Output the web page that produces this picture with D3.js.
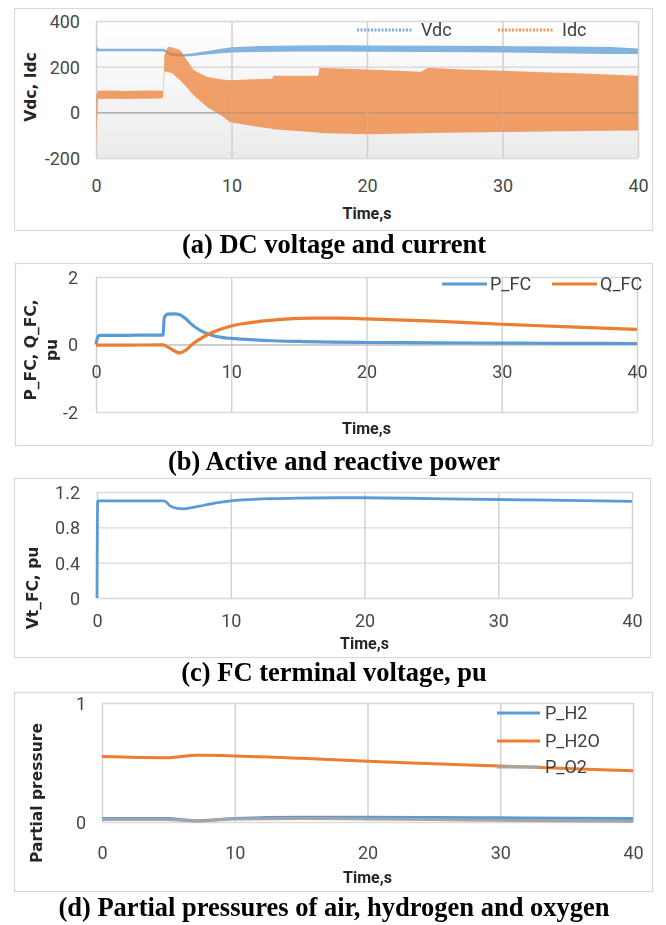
<!DOCTYPE html>
<html><head><meta charset="utf-8">
<script src="https://cdn.jsdelivr.net/npm/d3@7"></script>
<style>
html,body{margin:0;padding:0;background:#fff;}
svg{display:block;}
.tick text{font-family:"Roboto","Liberation Sans",sans-serif;font-size:18px;fill:#484848;}
.lg{font-family:"Roboto","Liberation Sans",sans-serif;font-size:18px;fill:#404040;}
.xt{font-family:"Roboto","Liberation Sans",sans-serif;font-weight:bold;font-size:16px;fill:#262626;}
.yt{font-family:"DejaVu Sans","Verdana",sans-serif;font-weight:bold;font-size:15.5px;fill:#262626;}
.cap{font-family:"Liberation Serif","Times New Roman",serif;font-weight:bold;font-size:26.5px;fill:#000;}
</style></head>
<body>
<svg id="c" width="666" height="925"></svg>
<script>
// ---------- data ----------
const xTicks = [0, 10, 20, 30, 40];

// (a) DC voltage / current (envelopes of the oscillating traces)
const vdcTime = [0, 0.2, 2, 4, 5, 5.5, 6, 6.5, 7, 8, 9, 10, 12, 15, 18, 20, 25, 30, 35, 38, 40];
const vdcHigh = [290, 279, 278, 279, 278, 262, 258, 256, 258, 266, 276, 285, 290, 293, 294, 293, 292, 290, 288, 286, 280];
const vdcLow  = [268, 268, 267, 268, 266, 248, 244, 244, 246, 252, 258, 262, 264, 266, 266, 265, 264, 262, 258, 256, 255];
const idcTime = [0, 0.15, 1, 2, 3, 4, 4.95, 5.05, 5.3, 5.6, 6.2, 6.7, 7.2, 8.2, 9.2, 9.9, 11.6, 13, 13.1, 16.4, 16.5, 20, 24, 24.5, 27, 30, 33, 36, 40];
const idcHigh = [75, 95, 96, 93, 95, 96, 95, 250, 286, 285, 273, 230, 185, 155, 145, 141, 145, 147, 160, 160, 195, 188, 178, 195, 188, 182, 176, 170, 160];
const idcLow  = [-135, 58, 60, 58, 60, 60, 62, 180, 177, 172, 141, 110, 75, 23, -12, -43, -60, -72, -74, -88, -90, -96, -92, -90, -88, -86, -84, -82, -80];

// (b) active / reactive power
const pTime = [0, 0.15, 0.3, 2, 4, 4.95, 5.05, 5.3, 5.8, 6.2, 6.6, 7.0, 7.7, 8.5, 9.3, 10, 12, 15, 20, 25, 30, 35, 40];
const pFC   = [0, 0.24, 0.27, 0.27, 0.28, 0.28, 0.8, 0.9, 0.91, 0.88, 0.78, 0.62, 0.42, 0.28, 0.21, 0.18, 0.13, 0.09, 0.06, 0.05, 0.04, 0.035, 0.03];
const qTime = [0, 2, 4.95, 5.5, 6.2, 6.6, 7.1, 8.1, 9, 10, 12, 14, 16, 18, 20, 25, 30, 35, 40];
const qFC   = [-0.02, -0.02, -0.01, -0.12, -0.25, -0.18, 0, 0.26, 0.42, 0.55, 0.68, 0.75, 0.78, 0.78, 0.76, 0.69, 0.6, 0.52, 0.45];

// (c) FC terminal voltage
const vtTime = [0, 0.05, 1, 2, 3, 4, 5, 5.5, 6, 6.5, 7, 8, 9, 10, 12, 15, 18, 20, 25, 30, 35, 40];
const vtFC   = [0, 1.1, 1.1, 1.1, 1.1, 1.1, 1.1, 1.04, 1.015, 1.01, 1.02, 1.05, 1.08, 1.1, 1.12, 1.13, 1.135, 1.135, 1.125, 1.115, 1.105, 1.095];

// (d) partial pressures
const ppTime = [0, 5, 6, 7, 8, 10, 15, 20, 25, 30, 35, 40];
const pH2    = [0.03, 0.03, 0.02, 0.01, 0.015, 0.03, 0.04, 0.04, 0.038, 0.035, 0.032, 0.03];
const pH2O   = [0.55, 0.54, 0.55, 0.56, 0.56, 0.555, 0.535, 0.51, 0.49, 0.47, 0.45, 0.43];
const pO2    = [0.02, 0.02, 0.015, 0.008, 0.012, 0.025, 0.03, 0.025, 0.02, 0.015, 0.01, 0.006];

const BLUE = "#5b9bd5", ORANGE = "#ed7d31", GRAY = "#a5a5a5";
const fmtTick = d => String(d);   // plain hyphen minus, as in the reference

// ---------- drawing ----------
const svg = d3.select("#c");
const defs = svg.append("defs");
const gr = defs.append("linearGradient").attr("id", "bgA").attr("x1", 0).attr("y1", 0).attr("x2", 0).attr("y2", 1);
gr.append("stop").attr("offset", "0%").attr("stop-color", "#ffffff");
gr.append("stop").attr("offset", "100%").attr("stop-color", "#ebebeb");

function frame(x0, y0, x1, y1) {
  svg.append("rect").attr("x", x0 + 0.5).attr("y", y0 + 0.5).attr("width", x1 - x0).attr("height", y1 - y0)
    .attr("fill", "#fff").attr("stroke", "#d9d9d9").attr("stroke-width", 1.2);
}

function grid(g, o, x, y, opacity) {
  const gx = g.append("g").attr("transform", `translate(0,${o.yB})`).attr("opacity", opacity)
    .call(d3.axisBottom(x).tickValues(xTicks).tickSize(-(o.yB - o.yT)).tickFormat(""));
  gx.select(".domain").remove();
  gx.selectAll("line").attr("stroke", "#d0d0d0").attr("stroke-width", 1.4);
  const gy = g.append("g").attr("transform", `translate(${o.x0},0)`).attr("opacity", opacity)
    .call(d3.axisLeft(y).tickValues(o.yTicks).tickSize(-(o.x1 - o.x0)).tickFormat(""));
  gy.select(".domain").remove();
  gy.selectAll("line").attr("stroke", d => (d === 0 && o.zeroDark) ? o.zeroDark : "#d9d9d9").attr("stroke-width", 1.4);
}

function panel(o) {
  const x = d3.scaleLinear().domain([0, 40]).range([o.x0, o.x1]);
  const y = d3.scaleLinear().domain(o.yDom).range([o.yB, o.yT]);
  const g = svg.append("g");
  if (o.bg) g.append("rect").attr("x", o.x0).attr("y", o.yT).attr("width", o.x1 - o.x0).attr("height", o.yB - o.yT).attr("fill", o.bg);
  grid(g, o, x, y, 1);
  // y tick labels
  const yl = g.append("g").attr("transform", `translate(${o.yLabX},0)`)
    .call(d3.axisLeft(y).tickValues(o.yTicks).tickSize(0).tickPadding(0).tickFormat(fmtTick));
  yl.select(".domain").remove();
  yl.selectAll("text").attr("dy", "0.36em");
  // x tick labels
  const xl = g.append("g").attr("transform", `translate(0,${o.xLabY})`)
    .call(d3.axisBottom(x).tickValues(xTicks).tickSize(0).tickPadding(0).tickFormat(fmtTick));
  xl.select(".domain").remove();
  xl.selectAll("text").attr("dy", "0.36em");
  // axis titles
  svg.append("text").attr("class", "xt").attr("x", (o.x0 + o.x1) / 2).attr("y", o.xTitleY)
    .attr("text-anchor", "middle").attr("dy", "0.36em").text("Time,s");
  o.yTitle.forEach((t, i) => {
    svg.append("text").attr("class", "yt").attr("text-anchor", "middle")
      .attr("transform", `translate(${o.yTitleX[i]},${o.yTitleY}) rotate(-90)`).attr("dy", "0.36em").text(t);
  });
  return {x, y, g, o};
}

// ===== (a) =====
frame(14, 8, 652, 230);
{
  const P = panel({x0: 96, x1: 638, yT: 21, yB: 158, yDom: [-200, 400], yTicks: [-200, 0, 200, 400],
    zeroDark: "#a6a6a6", bg: "url(#bgA)", yLabX: 80, xLabY: 186, xTitleY: 213,
    yTitle: ["Vdc, Idc"], yTitleX: [30], yTitleY: 87});
  const {x, y, g} = P;
  const area = (hi, lo) => d3.area().x(d => x(d)).y0((d, i) => y(lo[i])).y1((d, i) => y(hi[i]));
  g.append("path").datum(vdcTime).attr("d", area(vdcHigh, vdcLow)).attr("fill", BLUE).attr("fill-opacity", 0.75);
  g.append("path").datum(idcTime).attr("d", area(idcHigh, idcLow)).attr("fill", ORANGE).attr("fill-opacity", 0.72);
  // gridlines faintly visible through the dense traces
  grid(g, P.o, x, y, 0.35);
  // legend
  [["Vdc", BLUE, 357, 421], ["Idc", ORANGE, 498, 562]].forEach(([t, c, lx, tx]) => {
    svg.append("line").attr("x1", lx).attr("x2", lx + 55).attr("y1", 30).attr("y2", 30)
      .attr("stroke", c).attr("stroke-width", 3).attr("stroke-dasharray", "2,1.5").attr("opacity", 0.8);
    svg.append("text").attr("class", "lg").attr("x", tx).attr("y", 30).attr("dy", "0.36em").text(t);
  });
}
svg.append("text").attr("class", "cap").attr("x", 334).attr("y", 253).attr("text-anchor", "middle").text("(a) DC voltage and current");

// ===== (b) =====
frame(15, 263, 652, 445);
{
  const {x, y, g} = panel({x0: 96, x1: 637, yT: 277, yB: 412, yDom: [-2, 2], yTicks: [-2, 0, 2],
    zeroDark: "#bfbfbf", yLabX: 78, xLabY: 372, xTitleY: 428,
    yTitle: ["P_FC, Q_FC,", "pu"], yTitleX: [30, 51], yTitleY: 350});
  const line = (xs, ys) => d3.line().x((d, i) => x(xs[i])).y(d => y(d)).curve(d3.curveMonotoneX)(ys);
  g.append("path").attr("d", line(pTime, pFC)).attr("fill", "none").attr("stroke", BLUE).attr("stroke-width", 3.2);
  g.append("path").attr("d", line(qTime, qFC)).attr("fill", "none").attr("stroke", ORANGE).attr("stroke-width", 3.2);
  [["P_FC", BLUE, 442, 490], ["Q_FC", ORANGE, 552, 600]].forEach(([t, c, lx, tx]) => {
    svg.append("line").attr("x1", lx).attr("x2", lx + 45).attr("y1", 284).attr("y2", 284).attr("stroke", c).attr("stroke-width", 3.2);
    svg.append("text").attr("class", "lg").attr("x", tx).attr("y", 284).attr("dy", "0.36em").text(t);
  });
}
svg.append("text").attr("class", "cap").attr("x", 334).attr("y", 470).attr("text-anchor", "middle").text("(b) Active and reactive power");

// ===== (c) =====
frame(14, 478, 650, 657);
{
  const {x, y, g} = panel({x0: 97, x1: 632, yT: 492, yB: 598, yDom: [0, 1.2], yTicks: [0, 0.4, 0.8, 1.2],
    yLabX: 80, xLabY: 621, xTitleY: 643,
    yTitle: ["Vt_FC, pu"], yTitleX: [32], yTitleY: 588});
  const line = (xs, ys) => d3.line().x((d, i) => x(xs[i])).y(d => y(d)).curve(d3.curveMonotoneX)(ys);
  g.append("path").attr("d", line(vtTime, vtFC)).attr("fill", "none").attr("stroke", BLUE).attr("stroke-width", 2.8);
}
svg.append("text").attr("class", "cap").attr("x", 334).attr("y", 681).attr("text-anchor", "middle").text("(c) FC terminal voltage, pu");

// ===== (d) =====
frame(14, 692, 652, 891);
{
  const {x, y, g} = panel({x0: 102, x1: 633, yT: 703, yB: 822, yDom: [0, 1], yTicks: [0, 1],
    yLabX: 86, xLabY: 853, xTitleY: 877,
    yTitle: ["Partial pressure"], yTitleX: [36], yTitleY: 793});
  const line = (xs, ys) => d3.line().x((d, i) => x(xs[i])).y(d => y(d)).curve(d3.curveMonotoneX)(ys);
  g.append("path").attr("d", line(ppTime, pH2)).attr("fill", "none").attr("stroke", BLUE).attr("stroke-width", 3);
  g.append("path").attr("d", line(ppTime, pH2O)).attr("fill", "none").attr("stroke", ORANGE).attr("stroke-width", 3);
  g.append("path").attr("d", line(ppTime, pO2)).attr("fill", "none").attr("stroke", GRAY).attr("stroke-width", 3);
  [["P_H2", BLUE, 713], ["P_H2O", ORANGE, 741], ["P_O2", GRAY, 767]].forEach(([t, c, ly]) => {
    svg.append("line").attr("x1", 497).attr("x2", 540).attr("y1", ly).attr("y2", ly).attr("stroke", c).attr("stroke-width", 3);
    svg.append("text").attr("class", "lg").attr("x", 545).attr("y", ly).attr("dy", "0.36em").text(t);
  });
}
svg.append("text").attr("class", "cap").attr("x", 334).attr("y", 916).attr("text-anchor", "middle").text("(d) Partial pressures of air, hydrogen and oxygen");
</script>
</body></html>
